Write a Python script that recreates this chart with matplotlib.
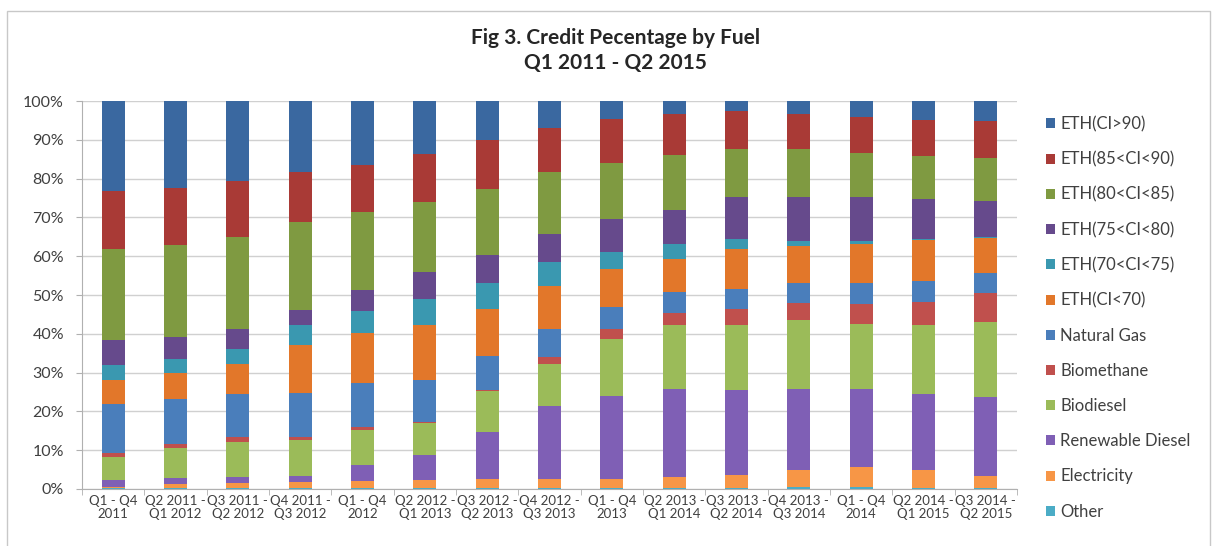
import matplotlib.pyplot as plt
import numpy as np
from matplotlib.patches import Rectangle

plt.rcParams['font.family'] = ['Lato', 'DejaVu Sans']

# period labels (x axis)
periods = ["Q1 - Q4\n2011", "Q2 2011 -\nQ1 2012", "Q3 2011 -\nQ2 2012", "Q4 2011 -\nQ3 2012",
           "Q1 - Q4\n2012", "Q2 2012 -\nQ1 2013", "Q3 2012 -\nQ2 2013", "Q4 2012 -\nQ3 2013",
           "Q1 - Q4\n2013", "Q2 2013 -\nQ1 2014", "Q3 2013 -\nQ2 2014", "Q4 2013 -\nQ3 2014",
           "Q1 - Q4\n2014", "Q2 2014 -\nQ1 2015", "Q3 2014 -\nQ2 2015"]

# credit share by fuel (%), stacked bottom -> top
other = [0.2, 0.2, 0.2, 0.2, 0.2, 0.2, 0.2, 0.2, 0.2, 0.2, 0.2, 0.4, 0.4, 0.3, 0.3]
electricity = [0.4, 1.0, 1.3, 1.7, 1.8, 2.1, 2.3, 2.5, 2.5, 3.0, 3.4, 4.5, 5.3, 4.6, 3.0]
renewable_diesel = [1.7, 1.7, 1.7, 1.4, 4.2, 6.4, 12.2, 18.6, 21.2, 22.7, 21.8, 21.0, 20.2, 19.7, 20.4]
biodiesel = [6.0, 7.6, 9.0, 9.3, 9.0, 8.3, 10.6, 11.0, 14.8, 16.3, 16.9, 17.6, 16.7, 17.6, 19.3]
biomethane = [1.0, 1.1, 1.3, 0.9, 0.7, 0.3, 0.3, 1.7, 2.6, 3.1, 4.1, 4.4, 5.0, 6.0, 7.5]
natural_gas = [12.7, 11.7, 11.1, 11.3, 11.3, 10.9, 8.8, 7.3, 5.7, 5.4, 5.2, 5.1, 5.4, 5.5, 5.1]
eth_lt70 = [6.0, 6.6, 7.7, 12.2, 13.0, 14.0, 12.0, 11.1, 9.7, 8.6, 10.3, 9.7, 10.2, 10.5, 9.1]
eth_70_75 = [3.9, 3.7, 3.9, 5.3, 5.8, 6.8, 6.6, 6.0, 4.3, 3.9, 2.5, 1.3, 0.8, 0.2, 0.2]
eth_75_80 = [6.4, 5.6, 5.1, 3.9, 5.2, 6.9, 7.2, 7.3, 8.6, 8.7, 10.8, 11.3, 11.2, 10.3, 9.4]
eth_80_85 = [23.6, 23.8, 23.6, 22.5, 20.1, 18.0, 17.1, 15.9, 14.5, 14.2, 12.4, 12.3, 11.5, 11.2, 11.1]
eth_85_90 = [15.0, 14.7, 14.5, 13.0, 12.2, 12.4, 12.6, 11.5, 11.2, 10.5, 9.8, 9.0, 9.2, 9.1, 9.5]
eth_gt90 = [23.1, 22.3, 20.6, 18.3, 16.5, 13.7, 10.1, 6.9, 4.7, 3.4, 2.6, 3.4, 4.1, 5.0, 5.1]

series = [
    ("Other", other, "#4bacc6"),
    ("Electricity", electricity, "#f79646"),
    ("Renewable Diesel", renewable_diesel, "#7f5fb5"),
    ("Biodiesel", biodiesel, "#9bbb59"),
    ("Biomethane", biomethane, "#c0504d"),
    ("Natural Gas", natural_gas, "#4a7ebb"),
    ("ETH(CI<70)", eth_lt70, "#e2772a"),
    ("ETH(70<CI<75)", eth_70_75, "#3a98b0"),
    ("ETH(75<CI<80)", eth_75_80, "#664a8c"),
    ("ETH(80<CI<85)", eth_80_85, "#7f9a41"),
    ("ETH(85<CI<90)", eth_85_90, "#a93a36"),
    ("ETH(CI>90)", eth_gt90, "#3a68a0"),
]

fig = plt.figure(figsize=(12.17, 5.46), dpi=100)
ax = fig.add_axes([0.0674, 0.1044, 0.7683, 0.7106])

x = np.arange(len(periods))
bottom = np.zeros(len(periods))
handles = []
for name, vals, col in series:
    b = ax.bar(x, vals, width=0.37, bottom=bottom, color=col, label=name, zorder=3)
    handles.append(b)
    bottom += np.array(vals)

ax.set_xlim(-0.5, len(periods) - 0.5)
ax.set_ylim(0, 100)
ax.set_yticks(np.arange(0, 101, 10))
ax.set_yticklabels([f"{v}%" for v in range(0, 101, 10)], fontsize=11.5, color="#404040")
ax.set_xticks(x)
ax.set_xticklabels(periods, fontsize=9.5, color="#404040", linespacing=1.15)
ax.set_xticks(np.arange(-0.5, len(periods), 1), minor=True)
ax.tick_params(axis='x', which='major', length=0, pad=4)
ax.tick_params(axis='x', which='minor', length=4, color="#b0b0b0")
ax.tick_params(axis='y', length=4, color="#b0b0b0", pad=9)
ax.grid(axis='y', color="#d0d0d0", linewidth=1, zorder=0)
for s in ['top', 'right']:
    ax.spines[s].set_visible(False)
ax.spines['left'].set_color("#b0b0b0")
ax.spines['bottom'].set_color("#b0b0b0")

fig.text(0.506, 0.908, "Fig 3. Credit Pecentage by Fuel\nQ1 2011 - Q2 2015",
         ha='center', va='center', fontsize=15, fontweight='bold', color="#262626",
         linespacing=1.32)

leg = fig.legend(handles[::-1], [s[0] for s in series][::-1], loc='upper left',
                 bbox_to_anchor=(1046 / 1217, 1 - 116 / 546), frameon=False,
                 fontsize=12, handlelength=0.55, handleheight=0.55,
                 handletextpad=0.3, labelspacing=1.15, borderpad=0, borderaxespad=0)
for t in leg.get_texts():
    t.set_color("#404040")

fig.patches.append(Rectangle((7 / 1217, -0.1), 1203 / 1217, 1.1 - 11 / 546,
                             transform=fig.transFigure, fill=False,
                             edgecolor="#c8c8c8", linewidth=1))

fig.savefig("out.png", dpi=100)
